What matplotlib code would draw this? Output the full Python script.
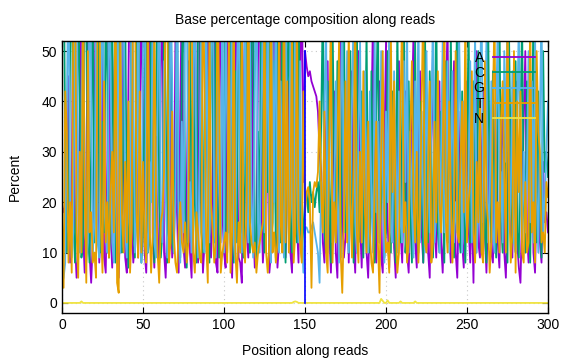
import matplotlib
matplotlib.use("Agg")
import matplotlib.pyplot as plt

plt.rcParams['font.family'] = ['Liberation Sans', 'DejaVu Sans']

positions = list(range(0, 301))

base_A = [19,18,20,16,45,8,22,60,12,5,
          9,38,70,14,6,25,58,10,4,12,
          34,66,20,8,15,50,9,6,28,72,
          14,7,40,55,11,5,18,62,30,9,
          6,44,80,16,8,12,36,9,24,65,
          40,10,6,20,58,75,14,7,33,12,
          8,46,62,10,5,17,70,28,9,13,
          52,18,6,38,64,11,7,22,48,10,
          5,30,75,16,8,58,20,6,12,42,
          66,14,9,25,54,8,6,36,70,18,
          10,7,44,60,12,5,20,68,32,9,
          8,4,40,56,14,9,26,62,16,7,
          11,48,72,20,8,14,57,30,6,10,
          38,65,18,7,12,50,76,14,9,22,
          44,10,6,30,60,16,8,42,70,24,
          50,47,45,46,44,43,42,41,38,30,
          26,12,8,34,48,14,6,20,42,10,
          5,28,56,18,9,13,38,8,24,46,
          12,6,32,50,16,7,22,40,10,5,
          18,36,58,12,8,26,44,9,6,30,
          52,16,7,20,40,11,5,34,48,14,
          8,24,42,10,6,18,38,54,12,7,
          28,46,14,8,20,36,10,5,32,50,
          16,9,24,44,12,6,18,40,56,14,
          8,30,48,10,5,22,38,12,7,26,
          44,15,8,20,4,34,50,12,9,28,
          42,14,6,18,36,10,8,24,46,12,
          7,30,40,10,5,20,38,14,9,26,
          44,12,7,4,18,36,50,14,8,24,
          40,10,6,22,34,12,8,28,16,18,14]

base_C = [60,72,30,10,14,50,75,18,8,22,
          64,40,9,12,56,70,15,8,30,66,
          12,48,80,20,10,36,14,62,44,9,
          16,58,20,8,68,74,12,10,40,60,
          18,7,28,64,15,9,52,70,20,8,
          14,42,66,10,12,60,25,8,36,72,
          20,9,14,58,40,8,66,78,12,10,
          30,62,15,9,46,70,18,7,24,64,
          12,50,20,8,60,74,14,10,38,55,
          16,8,64,40,12,70,22,9,14,58,
          66,18,10,30,72,20,8,46,12,60,
          76,14,9,24,62,18,10,50,70,12,
          8,34,14,66,20,10,58,22,74,12,
          16,48,9,64,30,12,70,18,8,40,
          62,14,10,56,22,12,68,18,9,15,
          20,22,18,24,20,22,19,22,24,18,
          36,60,14,10,44,22,8,56,30,12,
          48,18,9,40,62,14,24,10,50,20,
          8,34,58,12,16,42,9,26,54,14,
          10,46,22,8,38,60,12,20,30,9,
          14,50,28,10,42,18,8,56,24,12,
          36,64,10,16,44,20,8,30,52,14,
          10,40,24,8,58,18,12,46,30,9,
          20,62,14,10,38,26,8,48,16,12,
          54,22,9,36,60,14,10,42,20,8,
          30,56,12,16,44,9,26,50,20,10,
          38,14,8,58,24,12,46,18,9,34,
          62,16,10,40,22,8,52,28,12,18,
          48,14,9,36,56,20,10,44,24,8,
          30,58,14,12,42,18,9,50,26,30,25]

base_G = [4,5,8,40,66,20,9,14,58,72,
          18,10,30,62,25,8,12,70,44,10,
          16,54,12,9,38,74,20,14,10,60,
          48,12,8,24,66,18,10,54,70,14,
          9,32,12,68,46,10,16,60,22,8,
          50,76,14,10,28,20,64,12,9,40,
          70,18,12,48,22,9,14,62,44,10,
          20,72,16,8,36,14,58,66,12,24,
          10,42,70,18,9,30,56,14,10,64,
          20,12,50,72,16,9,44,22,12,66,
          10,58,36,14,20,70,12,8,46,62,
          14,10,28,68,18,12,54,20,9,40,
          72,16,10,36,60,14,22,66,12,8,
          52,20,70,14,10,44,18,9,64,30,
          12,56,22,10,68,24,12,48,14,6,
          15,15,14,14,15,16,14,12,10,4,
          24,14,40,56,10,30,48,12,18,44,
          22,8,36,60,14,26,50,10,20,40,
          58,16,10,34,52,12,28,46,14,10,
          42,20,10,54,18,36,12,50,26,8,
          38,20,58,14,12,46,30,10,42,16,
          12,48,24,56,10,34,18,9,44,22,
          60,12,38,20,10,50,26,14,36,58,
          12,18,44,10,30,52,14,22,48,10,
          28,46,12,20,14,56,36,10,40,18,
          14,24,48,12,30,54,10,18,42,60,
          16,34,52,12,20,44,14,10,38,56,
          18,26,12,50,28,64,14,20,46,12,
          10,38,56,20,12,30,14,26,50,16,
          44,12,54,22,10,36,60,14,20,30,40]

base_T = [17,3,42,34,8,20,6,58,72,14,
          5,30,10,66,22,4,50,14,18,8,
          10,5,60,74,16,6,44,12,20,9,
          22,30,14,70,4,2,56,18,10,28,
          12,40,6,14,72,66,18,9,42,10,
          28,12,8,64,16,6,14,58,22,10,
          4,16,18,26,70,60,8,12,38,14,
          8,6,14,20,12,10,16,8,12,76,
          66,10,6,18,14,9,8,70,40,12,
          4,56,20,14,8,12,66,40,6,10,
          12,14,8,56,6,14,64,10,4,16,
          10,60,12,8,20,70,16,12,10,12,
          6,10,12,14,16,64,10,6,12,70,
          10,14,8,12,58,16,10,70,12,44,
          10,20,56,8,14,60,16,12,8,42,
          18,22,23,20,3,22,24,23,26,40,
          22,14,38,10,6,34,58,8,20,12,
          30,52,10,2,16,44,12,56,20,9,
          28,60,14,8,30,12,46,18,10,36,
          14,8,6,24,36,12,2,30,50,18,
          10,12,6,54,22,44,16,6,10,40,
          58,14,20,8,12,34,48,20,12,30,
          8,18,40,60,12,10,28,44,8,12,
          36,16,46,20,14,28,60,16,10,40,
          22,8,18,50,14,12,28,40,18,60,
          12,20,24,46,14,8,28,16,40,10,
          8,48,20,16,6,12,40,58,12,20,
          10,36,44,26,10,60,20,8,14,50,
          6,40,22,42,10,8,24,10,12,60,
          14,20,8,50,34,30,12,14,10,24,21]

base_N = [0.0] * 301
n_bump_pos = [12, 143, 144, 145, 197, 198, 201, 209, 218]
n_bump_val = [0.3, 0.2, 0.3, 0.2, 0.8, 0.4, 0.5, 0.3, 0.3]
for p, v in zip(n_bump_pos, n_bump_val):
    base_N[p] = v

marker_pos = 150
marker_top = 50

series = [("A", base_A, "#9400d3"),
          ("C", base_C, "#009e73"),
          ("G", base_G, "#56b4e9"),
          ("T", base_T, "#e69f00"),
          ("N", base_N, "#f0e442")]

fig = plt.figure(figsize=(5.76, 3.6), dpi=100)
ax = fig.add_axes([62/576, 1-313/360, 486/576, 272/360])

for name, vals, col in series:
    n = min(len(vals), len(positions))
    ax.plot(positions[:n], vals[:n], color=col, lw=1.3, label=name)

ax.plot([marker_pos, marker_pos], [0, marker_top], color="#0000ff", lw=1.2)

ax.set_xlim(0, 300)
ax.set_ylim(-2, 52)
ax.set_xticks([0, 50, 100, 150, 200, 250, 300])
ax.set_yticks([0, 10, 20, 30, 40, 50])
ax.tick_params(direction='in', top=True, right=True, labelsize=10, length=4, width=0.8)
ax.grid(True, color='#c8c8c8', linestyle=(0, (1, 3)), linewidth=0.8)
for s in ax.spines.values():
    s.set_linewidth(1.0)
    s.set_color('black')

ax.set_title("Base percentage composition along reads", fontsize=10, pad=12)
ax.set_xlabel("Position along reads", fontsize=10, labelpad=9)
ax.set_ylabel("Percent", fontsize=10, labelpad=14)

leg = ax.legend(loc='upper right', bbox_to_anchor=(0.985, 0.985), frameon=False,
                markerfirst=False, fontsize=10, labelspacing=0.1, handlelength=3.0,
                handletextpad=0.7, borderaxespad=0)

fig.savefig("out.png", dpi=100)
